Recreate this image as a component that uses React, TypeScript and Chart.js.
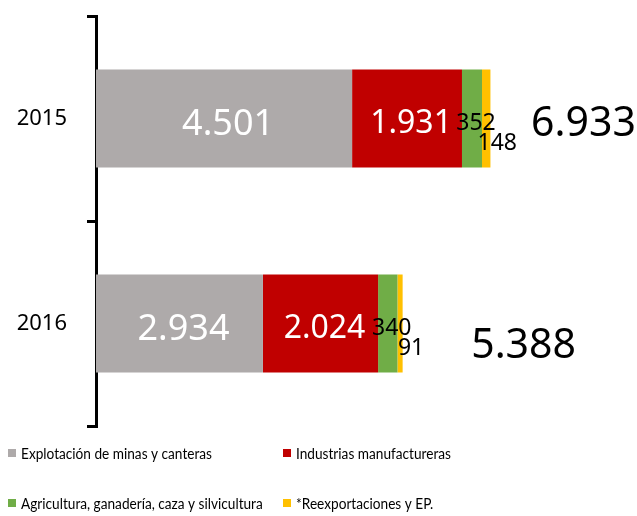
import { useEffect, useRef } from "react";
import { Chart, registerables } from "chart.js";

Chart.register(...registerables);

// ---- Data ----
const categories = ["2015", "2016"];
const seriesNames = [
  "Explotación de minas y canteras",
  "Industrias manufactureras",
  "Agricultura, ganadería, caza y silvicultura",
  "*Reexportaciones y EP.",
];
const mineria = [4501, 2934];
const manufactura = [1931, 2024];
const agricultura = [352, 340];
const reexportaciones = [148, 91];
const totals = [6933, 5388];

// ---- Styles ----
const FONT = '"Noto Sans", "Open Sans", sans-serif';
const LEGEND_FONT = 'Lato, "Noto Sans", sans-serif';
const LEGEND_SIZE = 15.5;
const LEGEND_XSCALE = 0.88;
const COLORS = ["#AEAAAA", "#C00000", "#70AD47", "#FFC000"];
const LABEL_STYLE = [
  { color: "#ffffff", size: 36, dx: 4, dy: 4 },
  { color: "#ffffff", size: 32, dx: 4, dy: 3 },
  { color: "#000000", size: 23, dx: 4, dy: 3 },
  { color: "#000000", size: 23, dx: 11, dy: 23 },
];
const TOTAL_STYLE = { size: 41, color: "#000000" };
const TOTAL_OFFSETS = [
  { dx: 93, dy: 3 },
  { dx: 121, dy: 20 },
];
const LEGEND_POS = [
  { x: 8, y: 453 },
  { x: 283, y: 453 },
  { x: 8, y: 503 },
  { x: 283, y: 503 },
];

const fmt = (n: number) =>
  String(n).replace(/\B(?=(\d{3})+(?!\d))/g, ".");

const labelsPlugin = {
  id: "customLabels",
  afterDatasetsDraw(chart: any) {
    const ctx = chart.ctx;
    ctx.save();
    ctx.textAlign = "center";
    ctx.textBaseline = "alphabetic";
    chart.data.datasets.forEach((ds: any, i: number) => {
      const meta = chart.getDatasetMeta(i);
      const st = LABEL_STYLE[i];
      meta.data.forEach((bar: any, j: number) => {
        const p = bar.getProps(["x", "y", "base"], true);
        const cx = (p.x + p.base) / 2 + st.dx;
        const cy = p.y + st.dy;
        ctx.font = `${st.size}px ${FONT}`;
        ctx.fillStyle = st.color;
        ctx.fillText(fmt(ds.data[j]), cx, cy + st.size * 0.357);
      });
    });
    const xs = chart.scales.x;
    const ys = chart.scales.y;
    totals.forEach((t, j) => {
      const cx = xs.getPixelForValue(t) + TOTAL_OFFSETS[j].dx;
      const cy = ys.getPixelForValue(j) + TOTAL_OFFSETS[j].dy;
      ctx.font = `${TOTAL_STYLE.size}px ${FONT}`;
      ctx.fillStyle = TOTAL_STYLE.color;
      ctx.fillText(fmt(t), cx, cy + TOTAL_STYLE.size * 0.357);
    });
    ctx.restore();
  },
};

const legendPlugin = {
  id: "customLegend",
  afterDraw(chart: any) {
    const ctx = chart.ctx;
    chart.data.datasets.forEach((ds: any, i: number) => {
      const pos = LEGEND_POS[i];
      ctx.save();
      ctx.fillStyle = ds.backgroundColor;
      ctx.fillRect(pos.x, pos.y - 4, 8, 8);
      ctx.translate(pos.x + 13, pos.y + 1);
      ctx.scale(LEGEND_XSCALE, 1);
      ctx.font = `${LEGEND_SIZE}px ${LEGEND_FONT}`;
      ctx.textAlign = "left";
      ctx.textBaseline = "middle";
      ctx.fillStyle = "#000";
      ctx.fillText(ds.label, 0, 0);
      ctx.restore();
    });
  },
};

export default function App() {
  const ref = useRef<HTMLCanvasElement | null>(null);

  useEffect(() => {
    if (!ref.current) return;
    const series = [mineria, manufactura, agricultura, reexportaciones];
    const chart = new Chart(ref.current, {
      type: "bar",
      data: {
        labels: categories,
        datasets: series.map((d, i) => ({
          label: seriesNames[i],
          data: d,
          backgroundColor: COLORS[i],
          borderWidth: 0,
          barPercentage: 0.478,
          categoryPercentage: 1,
        })),
      },
      options: {
        indexAxis: "y",
        animation: false,
        responsive: true,
        maintainAspectRatio: false,
        layout: { padding: { top: 16, bottom: 90, left: 0, right: 0 } },
        plugins: {
          legend: { display: false },
          tooltip: { enabled: false },
          title: { display: false },
        },
        scales: {
          x: {
            stacked: true,
            display: false,
            min: 0,
            max: 9508,
          },
          y: {
            stacked: true,
            afterFit(scale: any) {
              scale.width = 96;
              scale.paddingTop = 0;
              scale.paddingBottom = 0;
            },
            border: { display: true, color: "#000", width: 3 },
            grid: {
              display: true,
              drawOnChartArea: false,
              drawTicks: true,
              tickLength: 9,
              color: "#000",
              lineWidth: 3,
              offset: true,
            },
            ticks: {
              color: "#000",
              padding: 20,
              font: { family: FONT, size: 22 },
            },
          },
        },
      } as any,
      plugins: [labelsPlugin, legendPlugin],
    });
    return () => chart.destroy();
  }, []);

  return (
    <div
      style={{
        position: "absolute",
        left: 0,
        top: 0,
        width: 637,
        height: 516,
        background: "#fff",
      }}
    >
      <canvas ref={ref} />
    </div>
  );
}
